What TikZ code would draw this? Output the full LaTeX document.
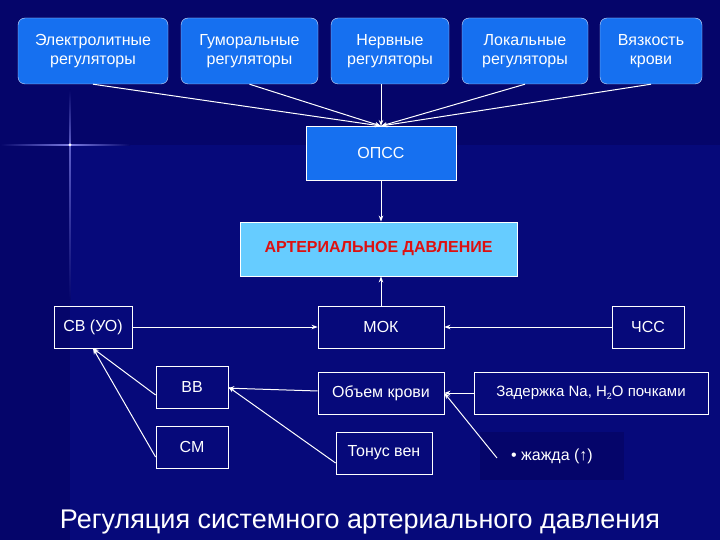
\documentclass[tikz,border=0pt]{standalone}
\usepackage{fontspec}
\setmainfont{Liberation Sans}
\usetikzlibrary{arrows.meta}
\definecolor{bg}{HTML}{05056A}
\definecolor{bgl}{HTML}{0A14A0}
\definecolor{topb}{HTML}{1670F0}
\definecolor{light}{HTML}{66CCFF}
\definecolor{redt}{HTML}{DD1111}
\begin{document}
\begin{tikzpicture}[x=1pt,y=-1pt,
  top/.style={draw=white!80!topb,fill=topb,rounded corners=7pt,text=white,font=\fontsize{16}{19}\selectfont,align=center,inner sep=0pt},
  wbox/.style={draw=white,thick,text=white,font=\fontsize{16}{19}\selectfont,align=center,inner sep=0pt},
  arr/.style={draw=white,line width=1pt,-{Stealth[length=6pt,width=4.5pt]}}]
\useasboundingbox (0,0) rectangle (720,540);
\fill[bg] (0,0) rectangle (720,540);
\fill[bgl,opacity=0.3] (70,145) rectangle (720,540);
\shade[left color=bg,right color=white!60!blue,opacity=0.8] (0,144.3) rectangle (70,145.7);
\shade[right color=bg,left color=white!60!blue,opacity=0.8] (70,144.3) rectangle (130,145.7);
\shade[top color=bg,bottom color=white!60!blue,opacity=0.6] (69.3,90) rectangle (70.7,145);
\shade[bottom color=bg,top color=white!60!blue,opacity=0.6] (69.3,145) rectangle (70.7,300);
\fill[white] (70,145) circle (1.5pt);
% top boxes
\node[top,minimum width=150pt,minimum height=66pt] (e) at (93,51) {Электролитные\\регуляторы};
\node[top,minimum width=137pt,minimum height=66pt] (g) at (249.5,51) {Гуморальные\\регуляторы};
\node[top,minimum width=118pt,minimum height=66pt] (n) at (390,51) {Нервные\\регуляторы};
\node[top,minimum width=126pt,minimum height=66pt] (l) at (525,51) {Локальные\\регуляторы};
\node[top,minimum width=102pt,minimum height=66pt] (v) at (651,51) {Вязкость\\крови};
\node[wbox,fill=topb,minimum width=150pt,minimum height=54pt] (o) at (381,153) {ОПСС};
\node[wbox,fill=light,text=redt,minimum width=277pt,minimum height=54pt,font=\bfseries\fontsize{16}{19}\selectfont] (ad) at (378.5,249) {АРТЕРИАЛЬНОЕ ДАВЛЕНИЕ};
\node[wbox,minimum width=78pt,minimum height=42pt] (sv) at (93,327) {СВ (УО)};
\node[wbox,minimum width=126pt,minimum height=42pt] (mok) at (381,327) {МОК};
\node[wbox,minimum width=72pt,minimum height=42pt] (chss) at (648,327) {ЧСС};
\node[wbox,minimum width=72pt,minimum height=42pt] (vv) at (192,387) {ВВ};
\node[wbox,minimum width=72pt,minimum height=42pt] (sm) at (192,447) {СМ};
\node[wbox,minimum width=126pt,minimum height=42pt] (ob) at (381,393) {Объем крови};
\node[wbox,minimum width=234pt,minimum height=42pt,font=\fontsize{15}{18}\selectfont] (zd) at (591,393) {Задержка Na, H\raisebox{-0.3ex}{\fontsize{9}{9}\selectfont 2}O почками};
\node[wbox,minimum width=96pt,minimum height=42pt] (tv) at (384,453) {Тонус вен};
\node[fill=bg,minimum width=144pt,minimum height=48pt,inner sep=0pt,text=white,font=\fontsize{16}{19}\selectfont] (zh) at (552,456) {• жажда (↑)};
\coordinate (zhs) at (497,458);
\node[text=white,font=\fontsize{27}{32}\selectfont] (t) at (360,522) {Регуляция системного артериального давления};
% arrows
\coordinate (ot) at (381,126);
\draw[arr] (e.south) -- (ot);
\draw[arr] (g.south) -- (ot);
\draw[arr] (n.south -| ot) -- (ot);
\draw[arr] (l.south) -- (ot);
\draw[arr] (v.south) -- (ot);
\draw[arr] (o.south) -- (o.south |- ad.north);
\draw[arr] (mok.north) -- (mok.north |- ad.south);
\draw[arr] (sv) -- (mok);
\draw[arr] (chss) -- (mok);
\draw[arr] (vv.west) ++(0,8) -- (sv.south);
\draw[arr] (sm.west) ++(0,10) -- (sv.south);
\draw[arr] (ob) -- (vv);
\draw[arr] (tv.west) ++(0,10) -- (vv.east);
\draw[arr] (zd) -- (ob);
\draw[arr] (zhs) -- (ob.east);
\end{tikzpicture}
\end{document}
